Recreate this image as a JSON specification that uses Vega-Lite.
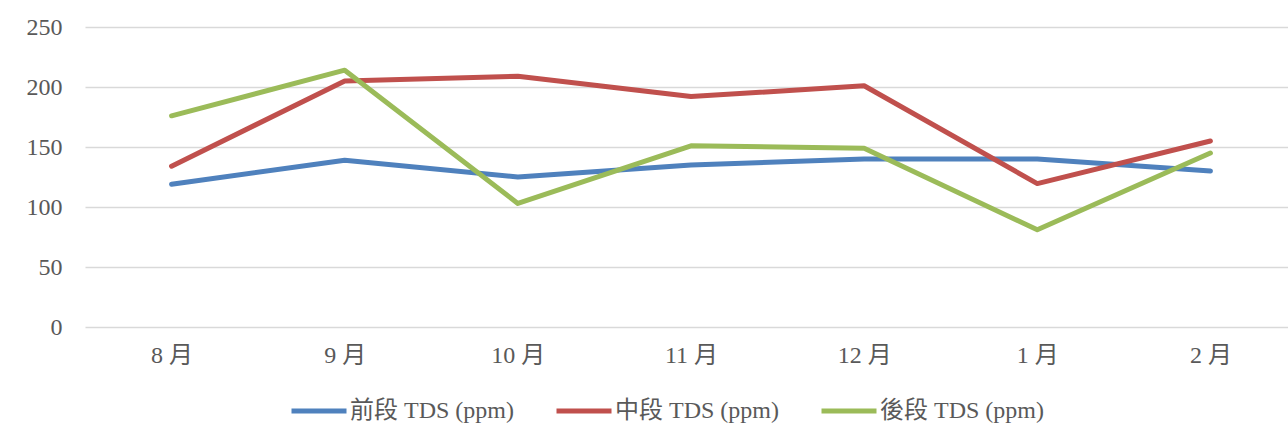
{
  "$schema": "https://vega.github.io/schema/vega-lite/v6.json",
  "autosize": "none",
  "padding": {"left": 85, "top": 27, "right": 0, "bottom": 116},
  "width": 1212,
  "height": 300,
  "background": "white",
  "config": {
    "view": {"stroke": null},
    "font": "Liberation Serif",
    "axis": {"labelFont": "Liberation Serif, Noto Sans CJK TC", "labelColor": "#595959", "labelFontSize": 24, "gridColor": "#D9D9D9", "gridWidth": 1.5, "domain": false, "ticks": false, "title": null},
    "legend": {"labelFont": "Liberation Serif, Noto Sans CJK TC", "labelColor": "#595959", "labelFontSize": 24}
  },
  "data": {
    "values": [
      {"month": "8 月", "series": "前段 TDS (ppm)", "value": 119},
      {"month": "9 月", "series": "前段 TDS (ppm)", "value": 139},
      {"month": "10 月", "series": "前段 TDS (ppm)", "value": 125},
      {"month": "11 月", "series": "前段 TDS (ppm)", "value": 135},
      {"month": "12 月", "series": "前段 TDS (ppm)", "value": 140},
      {"month": "1 月", "series": "前段 TDS (ppm)", "value": 140},
      {"month": "2 月", "series": "前段 TDS (ppm)", "value": 130},
      {"month": "8 月", "series": "中段 TDS (ppm)", "value": 134},
      {"month": "9 月", "series": "中段 TDS (ppm)", "value": 205},
      {"month": "10 月", "series": "中段 TDS (ppm)", "value": 209},
      {"month": "11 月", "series": "中段 TDS (ppm)", "value": 192},
      {"month": "12 月", "series": "中段 TDS (ppm)", "value": 201},
      {"month": "1 月", "series": "中段 TDS (ppm)", "value": 119.5},
      {"month": "2 月", "series": "中段 TDS (ppm)", "value": 155},
      {"month": "8 月", "series": "後段 TDS (ppm)", "value": 176},
      {"month": "9 月", "series": "後段 TDS (ppm)", "value": 214},
      {"month": "10 月", "series": "後段 TDS (ppm)", "value": 103},
      {"month": "11 月", "series": "後段 TDS (ppm)", "value": 151},
      {"month": "12 月", "series": "後段 TDS (ppm)", "value": 149},
      {"month": "1 月", "series": "後段 TDS (ppm)", "value": 81},
      {"month": "2 月", "series": "後段 TDS (ppm)", "value": 145}
    ]
  },
  "mark": {"type": "line", "strokeWidth": 5, "strokeCap": "round", "strokeJoin": "round"},
  "encoding": {
    "x": {
      "field": "month", "type": "ordinal",
      "sort": ["8 月", "9 月", "10 月", "11 月", "12 月", "1 月", "2 月"],
      "scale": {"type": "point", "padding": 0.5},
      "axis": {"labelAngle": 0, "grid": false, "labelPadding": 16}
    },
    "y": {
      "field": "value", "type": "quantitative",
      "scale": {"domain": [0, 250], "nice": false},
      "axis": {"values": [0, 50, 100, 150, 200, 250], "labelPadding": 23}
    },
    "color": {
      "field": "series", "type": "nominal",
      "sort": ["前段 TDS (ppm)", "中段 TDS (ppm)", "後段 TDS (ppm)"],
      "scale": {"domain": ["前段 TDS (ppm)", "中段 TDS (ppm)", "後段 TDS (ppm)"], "range": ["#4F81BD", "#C0504D", "#9BBB59"]},
      "legend": {
        "title": null, "orient": "none", "direction": "horizontal",
        "legendX": 204, "legendY": 354,
        "symbolType": "stroke", "symbolSize": 3025, "symbolStrokeWidth": 5,
        "labelOffset": 1, "columnPadding": 32, "labelLimit": 300
      }
    }
  }
}
